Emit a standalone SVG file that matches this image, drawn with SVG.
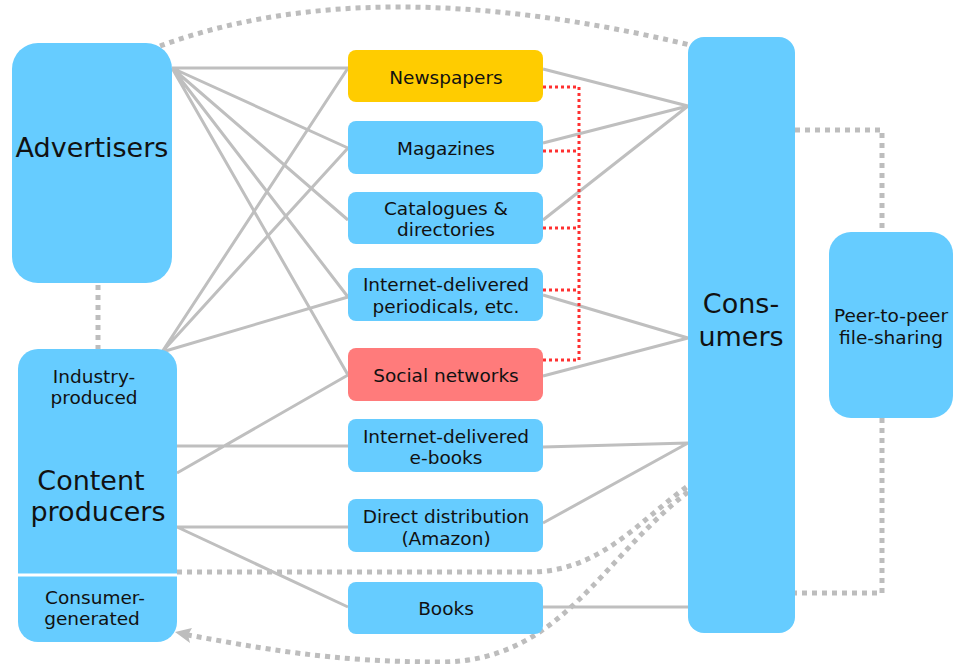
<svg xmlns="http://www.w3.org/2000/svg" width="958" height="664" viewBox="0 0 958 664">
<defs>
<style>
.box{fill:#66CCFF}
.t{font-family:"DejaVu Sans","Verdana",sans-serif;fill:#111;text-anchor:middle}
.s{font-size:18.5px}
.b{font-size:27px}
.ln{stroke:#BFBFBF;stroke-width:3;fill:none}
.dg{stroke:#BDBDBD;stroke-width:5;fill:none;stroke-dasharray:5 5}
.dr{stroke:#FF3030;stroke-width:3;fill:none;stroke-dasharray:3 3}
.ah{fill:#BDBDBD}
</style>
</defs>
<rect width="958" height="664" fill="#fff"/>
<g id="connectors">
<path class="dg" d="M160,46 Q372,-32 694,46"/>
<path class="dg" d="M98,285 V349"/>
<path class="dg" d="M795,130 H882 V232"/>
<path class="dg" d="M882,418 V593 H795"/>
<path class="dg" d="M177,572 H530 C600,572 640,520 688,486"/>
<path class="dg" d="M688,492 C600,560 560,662 440,662 C330,662 260,648 188,635"/>
<polygon class="ah" points="175,632 192,628 188,635 190,643"/>
<path class="ln" d="M172,68 L348,68 M172,68 L348,148 M172,68 L348,220 M172,68 L348,297 M172,68 L348,375"/>
<path class="ln" d="M162,352 L348,68 M162,352 L348,148 M162,352 L348,297"/>
<path class="ln" d="M177,446 H348 M177,473 L348,375 M177,527 H348 M177,527 L348,607"/>
<path class="ln" d="M543,69 L688,106 M543,143 L688,106 M543,220 L688,106"/>
<path class="ln" d="M543,295 L688,338 M543,376 L688,338"/>
<path class="ln" d="M543,447 L688,443 M543,523 L688,443 M543,607 H688"/>
<path class="dr" d="M543,87 H579 V360 H543 M543,151 H579 M543,228 H579 M543,290 H579"/>
</g>
<g id="advertisers">
<rect class="box" x="12" y="43" width="160" height="240" rx="26"/>
<text class="t b" x="92" y="157">Advertisers</text>
</g>
<g id="content-producers">
<rect class="box" x="18" y="349" width="159" height="293" rx="20"/>
<line x1="18" y1="575" x2="177" y2="575" stroke="#fff" stroke-width="3"/>
<text class="t s" x="94" y="383">Industry-</text>
<text class="t s" x="94" y="404">produced</text>
<text class="t b" x="91" y="490">Content</text>
<text class="t b" x="98" y="521">producers</text>
<text class="t s" x="95" y="604">Consumer-</text>
<text class="t s" x="92" y="625">generated</text>
</g>
<g id="newspapers">
<rect x="348" y="50" width="195" height="52" rx="8" fill="#FFCC00"/>
<text class="t s" x="446" y="84">Newspapers</text>
</g>
<g id="magazines">
<rect class="box" x="348" y="121" width="195" height="53" rx="8"/>
<text class="t s" x="446" y="155">Magazines</text>
</g>
<g id="catalogues">
<rect class="box" x="348" y="192" width="195" height="52" rx="8"/>
<text class="t s" x="446" y="215">Catalogues &amp;</text>
<text class="t s" x="446" y="236">directories</text>
</g>
<g id="internet-periodicals">
<rect class="box" x="348" y="268" width="195" height="53" rx="8"/>
<text class="t s" x="446" y="291">Internet-delivered</text>
<text class="t s" x="446" y="313">periodicals, etc.</text>
</g>
<g id="social-networks">
<rect x="348" y="348" width="195" height="53" rx="8" fill="#FF7B7B"/>
<text class="t s" x="446" y="382">Social networks</text>
</g>
<g id="ebooks">
<rect class="box" x="348" y="419" width="195" height="53" rx="8"/>
<text class="t s" x="446" y="443">Internet-delivered</text>
<text class="t s" x="446" y="464">e-books</text>
</g>
<g id="direct-distribution">
<rect class="box" x="348" y="499" width="195" height="53" rx="8"/>
<text class="t s" x="446" y="523">Direct distribution</text>
<text class="t s" x="446" y="545">(Amazon)</text>
</g>
<g id="books">
<rect class="box" x="348" y="582" width="195" height="52" rx="8"/>
<text class="t s" x="446" y="615">Books</text>
</g>
<g id="consumers">
<rect class="box" x="688" y="37" width="107" height="596" rx="16"/>
<text class="t b" x="741" y="313">Cons-</text>
<text class="t b" x="741" y="346">umers</text>
</g>
<g id="peer-to-peer">
<rect class="box" x="829" y="232" width="124" height="186" rx="22"/>
<text class="t s" x="891" y="322">Peer-to-peer</text>
<text class="t s" x="891" y="344">file-sharing</text>
</g>
</svg>
